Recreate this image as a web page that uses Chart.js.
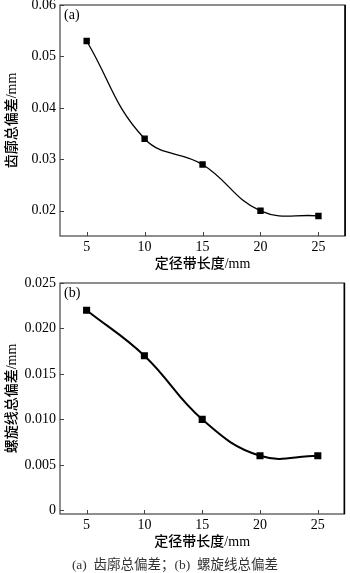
<!DOCTYPE html>
<html>
<head>
<meta charset="utf-8">
<script src="https://cdn.jsdelivr.net/npm/chart.js@4"></script>
<style>
  html, body { margin: 0; padding: 0; background: #fff; }
  body { width: 350px; height: 573px; position: relative; overflow: hidden; }
  .box { position: absolute; left: 0; width: 350px; height: 285px; }
  #boxA { top: -10px; }
  #boxB { top: 268px; }
  #caption {
    position: absolute; left: 0; width: 350px; top: 553px;
    text-align: center; font: 13.5px "Liberation Serif", "Noto Sans CJK SC", serif; color: #333;
  }
</style>
</head>
<body>
<div class="box" id="boxA"><canvas id="chartA"></canvas></div>
<div class="box" id="boxB"><canvas id="chartB"></canvas></div>
<div id="caption">(a)&nbsp; 齿廓总偏差；(b)&nbsp; 螺旋线总偏差</div>
<script>
// 定径带长度 (mm)
const lengths = [5, 10, 15, 20, 25];
// 齿廓总偏差 (mm)
const profileDev = [0.053, 0.034, 0.029, 0.020, 0.019];
// 螺旋线总偏差 (mm)
const helixDev = [0.022, 0.017, 0.010, 0.006, 0.006];

const xTicks = [5, 10, 15, 20, 25];
const profileTicks = [0.02, 0.03, 0.04, 0.05, 0.06];
const helixTicks = [0, 0.005, 0.010, 0.015, 0.020, 0.025];

const serif = '"Liberation Serif", "Noto Sans CJK SC", serif';

// 坐标框 + 朝内的刻度线
const framePlugin = {
  id: 'frame',
  afterDraw(chart) {
    const { ctx, chartArea: a, scales } = chart;
    ctx.save();
    ctx.strokeStyle = '#444';
    ctx.lineWidth = 1.2;
    ctx.strokeRect(a.left, a.top, a.right - a.left, a.bottom - a.top);
    // 右边框稍粗
    ctx.strokeStyle = '#000';
    ctx.lineWidth = 1.6;
    ctx.beginPath();
    ctx.moveTo(a.right, a.top);
    ctx.lineTo(a.right, a.bottom);
    ctx.stroke();
    ctx.strokeStyle = '#444';
    ctx.lineWidth = 1;
    ctx.beginPath();
    scales.x.ticks.forEach(t => {
      const px = Math.round(scales.x.getPixelForValue(t.value)) + 0.5;
      ctx.moveTo(px, a.bottom);
      ctx.lineTo(px, a.bottom - 4);
    });
    scales.y.ticks.forEach(t => {
      const py = Math.round(scales.y.getPixelForValue(t.value)) + 0.5;
      ctx.moveTo(a.left, py);
      ctx.lineTo(a.left + 4, py);
    });
    ctx.stroke();
    ctx.font = '14px ' + serif;
    ctx.fillStyle = '#000';
    ctx.textBaseline = 'top';
    ctx.fillText(chart.options.plugins.frame.tag, a.left + 4, a.top + 3);
    ctx.restore();
  }
};

function makeChart(id, values, yTicks, yMin, yMax, yTitle, digits, tag, lineWidth) {
  return new Chart(document.getElementById(id), {
    type: 'line',
    data: {
      datasets: [{
        data: lengths.map((x, i) => ({ x: x, y: values[i] })),
        borderColor: '#000',
        backgroundColor: '#000',
        borderWidth: lineWidth,
        tension: 0.42,
        pointStyle: 'rect',
        pointRadius: 3.6,
        pointHoverRadius: 3.6
      }]
    },
    options: {
      responsive: true,
      maintainAspectRatio: false,
      animation: false,
      layout: { padding: { top: 15, right: 2, left: 0, bottom: 0 } },
      plugins: {
        legend: { display: false },
        tooltip: { enabled: false },
        frame: { tag: tag }
      },
      scales: {
        x: {
          type: 'linear',
          min: 2.7,
          max: 27.3,
          afterBuildTicks: s => { s.ticks = xTicks.map(v => ({ value: v })); },
          afterFit: s => { s.height = 39; },
          grid: { display: true, drawOnChartArea: false, drawTicks: false },
          border: { display: false },
          ticks: { color: '#000', padding: 3, font: { family: serif, size: 14 } },
          title: {
            display: true,
            text: '定径带长度/mm',
            color: '#000',
            padding: { top: 0, bottom: 2 },
            font: { family: serif, size: 14, weight: 500 }
          }
        },
        y: {
          min: yMin,
          max: yMax,
          afterBuildTicks: s => { s.ticks = yTicks.map(v => ({ value: v })); },
          afterFit: s => { s.width = 60; },
          grid: { display: true, drawOnChartArea: false, drawTicks: false },
          border: { display: false },
          ticks: {
            color: '#000',
            padding: 4,
            font: { family: serif, size: 14 },
            callback: v => (v === 0 ? '0' : v.toFixed(digits))
          },
          title: {
            display: true,
            text: yTitle,
            color: '#000',
            padding: { top: 4, bottom: 0 },
            font: { family: serif, size: 14, weight: 500 }
          }
        }
      }
    },
    plugins: [framePlugin]
  });
}

makeChart('chartA', profileDev, profileTicks, 0.0151, 0.06, '齿廓总偏差/mm', 2, '(a)', 1.3);
makeChart('chartB', helixDev, helixTicks, -0.0004, 0.025, '螺旋线总偏差/mm', 3, '(b)', 2);
</script>
</body>
</html>
